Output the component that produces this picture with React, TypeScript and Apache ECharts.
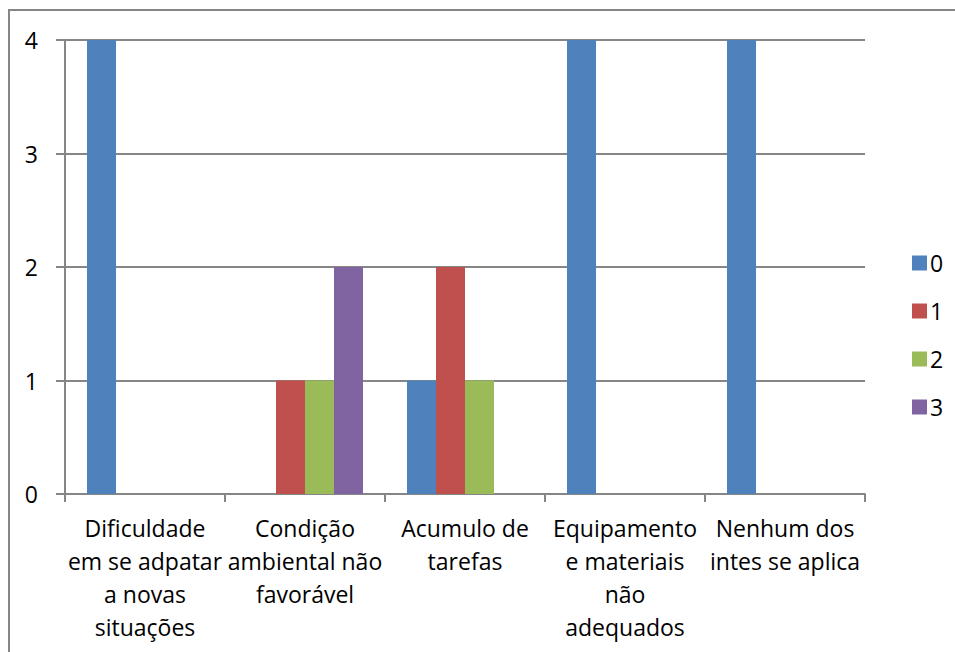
import React, { useEffect, useRef } from "react";
import * as echarts from "echarts";

const categories = [
  "Dificuldade\nem se adpatar\na novas\nsituações",
  "Condição\nambiental não\nfavorável",
  "Acumulo de\ntarefas",
  "Equipamento\ne materiais\nnão\nadequados",
  "Nenhum dos\nintes se aplica",
];
const seriesNames = ["0", "1", "2", "3"];
const s0 = [4, 0, 1, 4, 4];
const s1 = [0, 1, 2, 0, 0];
const s2 = [0, 1, 1, 0, 0];
const s3 = [0, 2, 0, 0, 0];
const colors = ["#4F81BD", "#C0504D", "#9BBB59", "#8064A2"];

const FONT = "Open Sans";
const FS = 23;

export default function App() {
  const ref = useRef<HTMLDivElement>(null);
  useEffect(() => {
    if (!ref.current) return;
    const chart = echarts.init(ref.current, null, { renderer: "svg" });
    const data = [s0, s1, s2, s3];
    chart.setOption({
      animation: false,
      color: colors,
      textStyle: { fontFamily: FONT, color: "#000" },
      graphic: [
        {
          type: "rect",
          shape: { x: 9, y: 10, width: 980, height: 700 },
          style: { fill: "none", stroke: "#868686", lineWidth: 2 },
          z: -10,
        },
      ],
      grid: { left: 65, right: 90, top: 40, bottom: 158 },
      legend: {
        orient: "vertical",
        left: 907,
        top: 246,
        itemWidth: 15,
        itemHeight: 15,
        itemGap: 24,
        icon: "rect",
        data: seriesNames,
        textStyle: { fontFamily: FONT, fontSize: FS, lineHeight: 24, color: "#000", padding: [0, 0, 0, -2] },
      },
      xAxis: {
        type: "category",
        data: categories,
        axisLine: { lineStyle: { color: "#868686", width: 2 } },
        axisTick: { show: true, length: 8, lineStyle: { color: "#868686", width: 2 } },
        axisLabel: {
          interval: 0,
          margin: 17,
          fontFamily: FONT,
          fontSize: FS,
          lineHeight: 33,
          color: "#000",
        },
      },
      yAxis: {
        type: "value",
        min: 0,
        max: 4,
        interval: 1,
        axisLine: { show: true, lineStyle: { color: "#868686", width: 2 } },
        axisTick: { show: true, length: 9, lineStyle: { color: "#868686", width: 2 } },
        splitLine: { lineStyle: { color: "#868686", width: 2 } },
        axisLabel: { margin: 27, fontFamily: FONT, fontSize: FS, color: "#000" },
      },
      series: seriesNames.map((n, i) => ({
        name: n,
        type: "bar",
        data: data[i],
        barGap: "0%",
        barCategoryGap: "27.5%",
        itemStyle: { color: colors[i] },
      })),
    });
    return () => chart.dispose();
  }, []);
  return <div ref={ref} style={{ width: 955, height: 652, position: "absolute", left: 0, top: 0 }} />;
}
